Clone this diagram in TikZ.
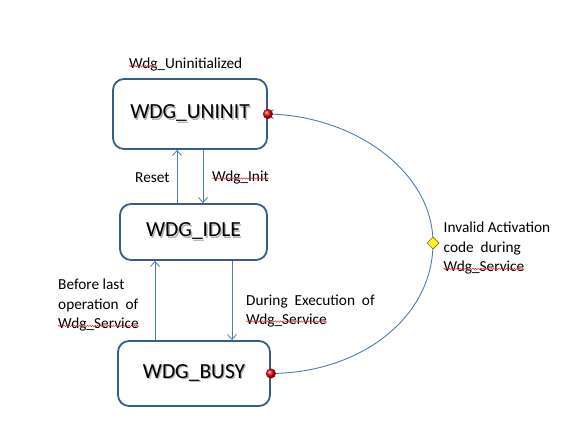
\documentclass[tikz,border=0pt]{standalone}
\usepackage{fontspec}
\setmainfont{Carlito}
\usetikzlibrary{arrows.meta,shapes.geometric,decorations.pathmorphing}
\definecolor{boxline}{HTML}{385D8A}
\definecolor{conn}{HTML}{4A7EBB}
\definecolor{spell}{HTML}{E03030}
\newcommand\shtext[1]{\makebox[0pt][l]{\hspace{1.3pt}\raisebox{-1.3pt}{\color{black!30}#1}}#1}
\tikzset{
  statebox/.style={draw=boxline,line width=1.8pt,rounded corners=11pt,fill=white,
    font=\fontsize{21.5}{25}\selectfont,inner sep=0pt},
  lbl/.style={font=\fontsize{15.3}{19}\selectfont,inner sep=0pt,anchor=base west},
  conn/.style={draw=conn,line width=0.9pt,-{Straight Barb[length=5pt,width=9pt,line width=0.8pt]}},
  reddot/.style={circle,minimum size=9.5pt,inner sep=0pt,draw=red!60!black,line width=0.4pt,ball color=red},
  ydiam/.style={diamond,minimum size=12pt,inner sep=0pt,draw=olive!70!black,line width=0.5pt,fill=yellow!90},
  squig/.style={draw=spell,line width=0.5pt,decorate,decoration={snake,amplitude=0.7pt,segment length=2.6pt}}
}
\begin{document}
\begin{tikzpicture}[x=1pt,y=-1pt]
\useasboundingbox (0,0) rectangle (567,430);

% states
\node[statebox,minimum width=154pt,minimum height=70pt] (uninit) at (190,114) {\shtext{WDG\_UNINIT}};
\node[statebox,minimum width=147pt,minimum height=56pt] (idle) at (193.5,232) {\shtext{WDG\_IDLE}};
\node[statebox,minimum width=152pt,minimum height=65pt] (busy) at (194,373.5) {\shtext{WDG\_BUSY}};

% x positions of vertical connectors
\coordinate (xreset) at (177,0);
\coordinate (xinit) at (203,0);
\coordinate (xbefore) at (155,0);
\coordinate (xduring) at (232,0);

\draw[conn] (idle.north -| xreset) -- (uninit.south -| xreset);
\draw[conn] (uninit.south -| xinit) -- (idle.north -| xinit);
\draw[conn] (busy.north -| xbefore) -- (idle.south -| xbefore);
\draw[conn] (idle.south -| xduring) -- (busy.north -| xduring);

% curved transition
\node[ydiam] (dia) at (433,243) {};
\draw[conn] (busy.east) .. controls (360,373) and (433,318) .. (dia.center)
  .. controls (433,172) and (355,116) .. (uninit.east);
\node[ydiam] at (dia.center) {};
\node[reddot] (d1) at (uninit.east) {};
\node[reddot] (d2) at (busy.east) {};

% labels
\node[lbl] (t1) at (129,69) {Wdg\_Uninitialized};
\node[lbl] (t1w) at (129,69) {\phantom{Wdg}};
\node[lbl] (reset) at (135,182.5) {Reset};
\node[lbl] (init) at (212,181.5) {Wdg\_Init};
\node[lbl] (b1) at (58,289.3) {Before last};
\node[lbl] (b2) at (58,309.3) {operation\ \ of};
\node[lbl] (b3) at (58,328.7) {Wdg\_Service};
\node[lbl] (e1) at (246,305) {During\ \ Execution\ \ of};
\node[lbl] (e2) at (246,324.3) {Wdg\_Service};
\node[lbl] (i1) at (443.5,232.7) {Invalid Activation};
\node[lbl] (i2) at (443.5,252.7) {code\ \ during};
\node[lbl] (i3) at (443.5,271.7) {Wdg\_Service};

% spelling squiggles
\draw[squig] ([yshift=2.8pt]t1w.base west) -- ([yshift=2.8pt]t1w.base east);
\draw[squig] ([yshift=3pt]init.base west) -- ([yshift=3pt]init.base east);
\draw[squig] ([yshift=2.8pt]b3.base west) -- ([yshift=2.8pt]b3.base east);
\draw[squig] ([yshift=2.8pt]e2.base west) -- ([yshift=2.8pt]e2.base east);
\draw[squig] ([yshift=2.8pt]i3.base west) -- ([yshift=2.8pt]i3.base east);
\end{tikzpicture}
\end{document}
